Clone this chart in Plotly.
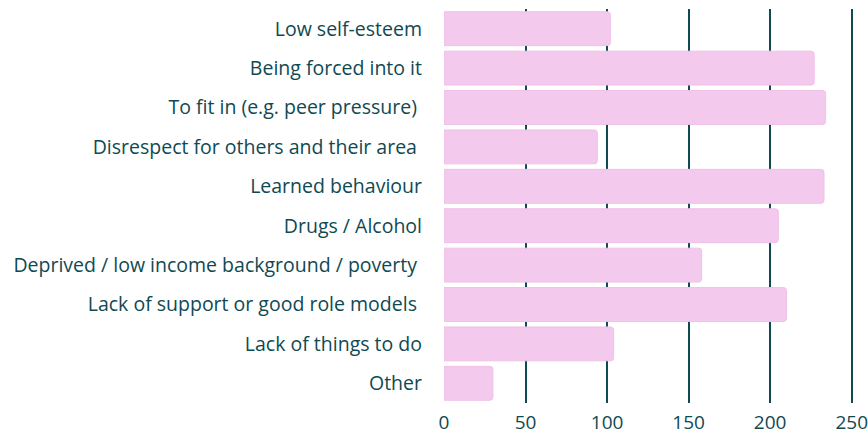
import plotly.graph_objects as go

categories = [
    "Low self-esteem",
    "Being forced into it",
    "To fit in (e.g. peer pressure) ",
    "Disrespect for others and their area ",
    "Learned behaviour",
    "Drugs / Alcohol",
    "Deprived / low income background / poverty ",
    "Lack of support or good role models ",
    "Lack of things to do",
    "Other",
]
counts = [102, 227, 234, 94, 233, 205, 158, 210, 104, 30]
tick_vals = [0, 50, 100, 150, 200, 250]

TEAL = "#0f4952"

fig = go.Figure(
    go.Bar(
        y=categories,
        x=counts,
        orientation="h",
        marker=dict(color="#f3caed", line=dict(color="#f0c0e8", width=1), cornerradius=3),
        width=0.86,
    )
)

fig.update_layout(
    width=868,
    height=439,
    margin=dict(l=444, r=7, t=9, b=36),
    plot_bgcolor="white",
    paper_bgcolor="white",
    font=dict(family="Open Sans, Lato, sans-serif", size=19.5, color=TEAL),
    showlegend=False,
)

fig.update_xaxes(
    range=[0, 255.7],
    tickvals=tick_vals,
    showgrid=True,
    gridcolor=TEAL,
    gridwidth=2,
    zeroline=False,
    showline=False,
    ticks="",
    automargin=False,
    ticklabeloverflow="allow",
    ticklabelstandoff=6,
    tickfont=dict(size=19, color=TEAL),
)
fig.update_yaxes(
    autorange="reversed",
    showgrid=False,
    showline=False,
    ticks="",
    automargin=False,
    ticklabelstandoff=21,
    tickfont=dict(size=19.5, color=TEAL),
)

# drop the default body margin so the figure fills the window exactly
fig.write_html(
    "out.html",
    config={"displayModeBar": False},
    post_script="document.body.style.margin='0';document.body.style.overflow='hidden';",
)
